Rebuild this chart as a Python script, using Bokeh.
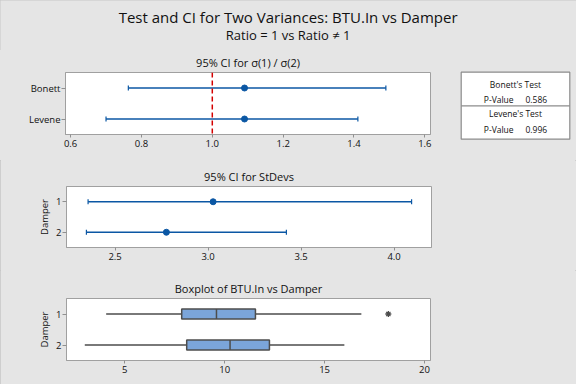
from bokeh.plotting import figure
from bokeh.models import (Range1d, FactorRange, FixedTicker, Whisker, TeeHead, Span,
                          ColumnDataSource, PrintfTickFormatter)
from bokeh.layouts import column, row
from bokeh.transform import dodge
from bokeh.embed import file_html
from bokeh.resources import INLINE
from bokeh.core.properties import value

# ---------------- data ----------------
main_title = "Test and CI for Two Variances: BTU.In vs Damper"
sub_title = "Ratio = 1 vs Ratio \u2260 1"

ratio_title = "95% CI for \u03c3(1) / \u03c3(2)"
ratio_methods = ["Bonett", "Levene"]
ratio_est = [1.091, 1.091]
ratio_lower = [0.763, 0.700]
ratio_upper = [1.490, 1.411]
ratio_null = 1.0
ratio_ticks = [0.6, 0.8, 1.0, 1.2, 1.4, 1.6]

sd_title = "95% CI for StDevs"
damper_levels = ["1", "2"]
sd_est = [3.027, 2.776]
sd_lower = [2.355, 2.346]
sd_upper = [4.094, 3.421]
sd_ticks = [2.5, 3.0, 3.5, 4.0]

box_title = "Boxplot of BTU.In vs Damper"
box_min = [4.07, 3.00]
box_q1 = [7.85, 8.10]
box_median = [9.59, 10.27]
box_q3 = [11.54, 12.24]
box_max = [16.84, 15.99]
outlier_level = ["1"]
outlier_value = [18.19]
box_ticks = [5, 10, 15, 20]

test_names = ["Bonett's Test", "Levene's Test"]
p_values = [0.586, 0.996]

# ---------------- style ----------------
FONT = "Open Sans"
BG = "#E5E5E5"
FRAME = "#A0A0A0"
BLUE = "#0B57A4"
RED = "#D40000"
BOX_FILL = "#7BA5DA"
BOX_LINE = "#4D4D4D"
TXT = "#111111"
W = 576


def text_fig(w, h):
    f = figure(width=w, height=h, x_range=Range1d(0, w), y_range=Range1d(0, h),
               output_backend="svg", toolbar_location=None, title=None,
               x_axis_type=None, y_axis_type=None, frame_align=False,
               min_border_left=0, min_border_right=0,
               min_border_top=0, min_border_bottom=0)
    f.grid.visible = False
    f.outline_line_color = None
    f.background_fill_color = BG
    f.border_fill_color = BG
    return f


def panel(title, xr, factors, ticks, w, h, left, right, top, bottom, standoff, ylabel=None):
    p = figure(width=w, height=h, x_range=xr,
               y_range=FactorRange(factors=factors),
               output_backend="svg", toolbar_location=None, frame_align=False,
               min_border_left=left, min_border_right=right,
               min_border_top=top, min_border_bottom=bottom)
    p.title.text = title
    p.title.align = "center"
    p.title.text_font = FONT
    p.title.text_font_size = "11px"
    p.title.text_font_style = "normal"
    p.title.text_color = TXT
    p.title.standoff = standoff
    p.grid.visible = False
    p.background_fill_color = "white"
    p.border_fill_color = BG
    p.outline_line_color = FRAME
    p.outline_line_width = 1
    for ax in p.axis:
        ax.axis_line_color = FRAME
        ax.major_tick_line_color = "#909090"
        ax.major_tick_in = 0
        ax.major_tick_out = 4
        ax.minor_tick_line_color = None
        ax.major_label_text_font = FONT
        ax.major_label_text_font_size = "9.5px"
        ax.major_label_text_color = TXT
        ax.major_label_standoff = 1
    p.xaxis.ticker = FixedTicker(ticks=ticks)
    p.xaxis.major_tick_out = 3
    p.xaxis.major_label_standoff = 2
    if ylabel:
        p.yaxis.axis_label = ylabel
        p.yaxis.axis_label_text_font = FONT
        p.yaxis.axis_label_text_font_size = "9.5px"
        p.yaxis.axis_label_text_font_style = "normal"
        p.yaxis.axis_label_text_color = TXT
        p.yaxis.axis_label_standoff = 2
    return p


def ci_whisker(src):
    return Whisker(source=src, base="m", lower="lo", upper="hi", dimension="width",
                   line_color=BLUE, line_width=1.5,
                   lower_head=TeeHead(size=5, line_color=BLUE, line_width=1.2),
                   upper_head=TeeHead(size=5, line_color=BLUE, line_width=1.2))


# ---------------- header (page y 0-50) ----------------
HH = 50
header = text_fig(W, HH)
header.text(x=[287.6], y=[HH - 16.7], text=[main_title], text_font=value(FONT),
            text_font_size="15px", text_align="center", text_baseline="middle", text_color=TXT)
header.text(x=[287.6], y=[HH - 34.5], text=[sub_title], text_font=value(FONT),
            text_font_size="13px", text_align="center", text_baseline="middle", text_color=TXT)

# ---------------- panel 1 : ratio CI (page y 50-160) ----------------
p1 = panel(ratio_title, Range1d(0.5856, 1.616), ratio_methods[::-1], ratio_ticks,
           448, 110, 65, 18, 22, 26, 5)
p1.xaxis.formatter = PrintfTickFormatter(format="%.1f")
src1 = ColumnDataSource(dict(m=ratio_methods, est=ratio_est, lo=ratio_lower, hi=ratio_upper))
p1.add_layout(Span(location=ratio_null, dimension="height", line_color=RED,
                   line_dash="5 3", line_width=1.5))
p1.add_layout(ci_whisker(src1))
p1.scatter(x="est", y="m", source=src1, size=6, color=BLUE)

# ---------------- table (page x 448-576, y 50-160) ----------------
TH = 110
tab = text_fig(W - 448, TH)
bx0, bx1, by0, by1 = 12.7, 121.3, 21.7, 88.7
div_y = 55.3
tab.quad(left=[bx0], right=[bx1], top=[TH - by0], bottom=[TH - by1], fill_color="white",
         line_color="#8C8C8C", line_width=1.2)
tab.segment(x0=[bx0], x1=[bx1], y0=[TH - div_y], y1=[TH - div_y], line_color="#8C8C8C", line_width=1.2)
name_y = [TH - 34.0, TH - 63.3]
pval_y = [TH - 49.0, TH - 79.0]
tab.text(x=[(bx0 + bx1) / 2] * len(test_names), y=name_y, text=test_names,
         text_font=value(FONT), text_font_size="8.5px", text_align="center",
         text_baseline="middle", text_color=TXT)
tab.text(x=[35.3] * len(p_values), y=pval_y, text=["P-Value"] * len(p_values),
         text_font=value(FONT), text_font_size="8.5px", text_align="left",
         text_baseline="middle", text_color=TXT)
tab.text(x=[77.0] * len(p_values), y=pval_y, text=[f"{v:.3f}" for v in p_values],
         text_font=value(FONT), text_font_size="8.5px", text_align="left",
         text_baseline="middle", text_color=TXT)

# ---------------- panel 2 : StDev CI (page y 160-270) ----------------
p2 = panel(sd_title, Range1d(2.239, 4.201), damper_levels[::-1], sd_ticks,
           W, 110, 66, 145, 26, 23, 6, ylabel="Damper")
p2.xaxis.formatter = PrintfTickFormatter(format="%.1f")
src2 = ColumnDataSource(dict(m=damper_levels, est=sd_est, lo=sd_lower, hi=sd_upper))
p2.add_layout(ci_whisker(src2))
p2.scatter(x="est", y="m", source=src2, size=6, color=BLUE)

# ---------------- panel 3 : boxplot (page y 270-384) ----------------
p3 = panel(box_title, Range1d(2.085, 20.3), damper_levels[::-1], box_ticks,
           W, 114, 66, 146, 28, 24, 6, ylabel="Damper")
src3 = ColumnDataSource(dict(level=damper_levels, lo=box_min, q1=box_q1, med=box_median,
                             q3=box_q3, hi=box_max))
p3.segment(x0="lo", y0="level", x1="q1", y1="level", source=src3, line_color=BOX_LINE, line_width=1.5)
p3.segment(x0="q3", y0="level", x1="hi", y1="level", source=src3, line_color=BOX_LINE, line_width=1.5)
p3.hbar(y="level", left="q1", right="q3", height=0.33, source=src3,
        fill_color=BOX_FILL, line_color=BOX_LINE, line_width=1.5)
p3.segment(x0="med", x1="med", y0=dodge("level", -0.165, range=p3.y_range),
           y1=dodge("level", 0.165, range=p3.y_range), source=src3,
           line_color=BOX_LINE, line_width=1.5)
p3.scatter(x=outlier_value, y=outlier_level, marker="asterisk", size=6,
           line_color=BOX_LINE, line_width=1.3)

layout = column(header, row(p1, tab, styles={"background-color": BG}), p2, p3,
                styles={"background-color": BG, "outline": "1px solid #C6C6C6",
                        "outline-offset": "-1px"})

with open("out.html", "w") as f:
    f.write(file_html(layout, INLINE))
